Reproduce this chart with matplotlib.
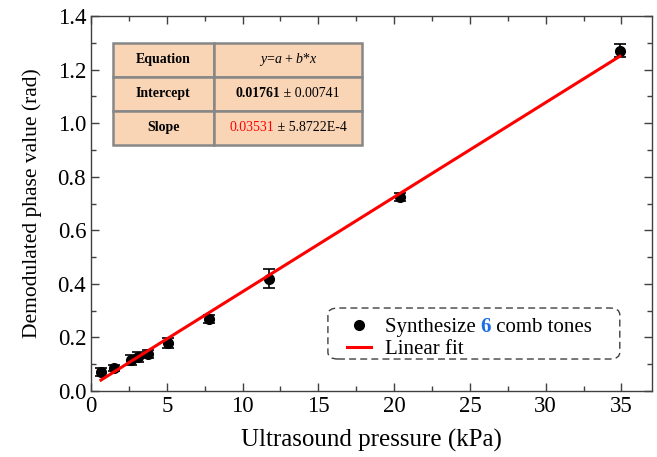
import numpy as np
import matplotlib.pyplot as plt
from matplotlib.lines import Line2D
from matplotlib.patches import FancyBboxPatch
from matplotlib.legend_handler import HandlerLine2D
from matplotlib.offsetbox import TextArea, HPacker, AnnotationBbox

plt.rcParams['font.family'] = ['Liberation Serif', 'DejaVu Serif']
plt.rcParams['mathtext.fontset'] = 'custom'
plt.rcParams['mathtext.rm'] = 'Liberation Serif'
plt.rcParams['mathtext.it'] = 'Liberation Serif:italic'
plt.rcParams['mathtext.bf'] = 'Liberation Serif:bold'

# data
pressure = [0.66, 1.49, 2.66, 3.13, 3.79, 5.1, 7.8, 11.77, 20.4, 34.9]
phase = [0.072, 0.085, 0.116, 0.127, 0.138, 0.179, 0.269, 0.42, 0.724, 1.27]
phase_err = [0.015, 0.012, 0.02, 0.02, 0.015, 0.02, 0.015, 0.036, 0.015, 0.024]

intercept = 0.01761
intercept_err = 0.00741
slope = 0.03531
slope_err = '5.8722E-4'

fig = plt.figure(figsize=(6.57, 4.57), dpi=100)
ax = fig.add_axes([0.1385, 0.1444, 0.8535, 0.8206])

ax.errorbar(pressure, phase, yerr=phase_err, fmt='o', color='black', ms=7,
            capsize=4.5, elinewidth=1.2, capthick=1.2, zorder=3)
xf = np.array([min(pressure), max(pressure)])
ax.plot(xf, intercept + slope * xf, color='red', lw=2.2, zorder=4)

ax.set_xlim(0, 37)
ax.set_ylim(0, 1.4)
ax.set_xticks(np.arange(0, 36, 5))
ax.set_xticks(np.arange(2.5, 36, 5), minor=True)
ax.set_yticks(np.arange(0, 1.41, 0.2))
ax.set_yticks(np.arange(0.1, 1.4, 0.2), minor=True)
ax.yaxis.set_major_formatter(plt.FormatStrFormatter('%.1f'))
ax.tick_params(which='both', direction='in', top=True, right=True,
               labeltop=False, labelright=False, color='#404040')
ax.tick_params(which='major', length=6, width=1, labelsize=16.5)
ax.tick_params(which='minor', length=3.5, width=1)
for s in ax.spines.values():
    s.set_color('#404040')
    s.set_linewidth(1)
ax.set_xlabel('Ultrasound pressure (kPa)', fontsize=18, labelpad=9)
ax.set_ylabel('Demodulated phase value (rad)', fontsize=15.5, labelpad=11)

# fit result table
tb = [0.039, 0.656, 0.444, 0.273]
cw = [0.406, 0.594]
cells = [['Equation', ''], ['Intercept', ''], ['Slope', '']]
tab = ax.table(cellText=cells, cellLoc='center', bbox=tb, colWidths=cw)
tab.auto_set_font_size(False)
for (r, c), cell in tab.get_celld().items():
    cell.set_facecolor('#f9d5b6')
    cell.set_edgecolor('#878787')
    cell.set_linewidth(1.8)
    cell.get_text().set_fontsize(10)
    if c == 0:
        cell.get_text().set_fontweight('bold')

vs = 10
cx = tb[0] + tb[2] * (cw[0] + cw[1] / 2)
row_y = [tb[1] + tb[3] * (5 / 6), tb[1] + tb[3] * 0.5, tb[1] + tb[3] * (1 / 6)]
ax.text(cx, row_y[0], '$y$=$a$ + $b$*$x$', transform=ax.transAxes,
        ha='center', va='center', fontsize=vs)
pieces = [
    [TextArea('%.5f' % intercept, textprops=dict(fontsize=vs, fontweight='bold')),
     TextArea(' \u00b1 %.5f' % intercept_err, textprops=dict(fontsize=vs))],
    [TextArea('%.5f' % slope, textprops=dict(fontsize=vs, color='red')),
     TextArea(' \u00b1 ' + slope_err, textprops=dict(fontsize=vs))],
]
for yy, p in zip(row_y[1:], pieces):
    pack = HPacker(children=p, align='baseline', pad=0, sep=0)
    ab = AnnotationBbox(pack, (cx, yy), xycoords='axes fraction',
                        frameon=False, box_alignment=(0.5, 0.5), pad=0)
    ax.add_artist(ab)


# legend: marker sits near the right end of its handle
class EndMarker(HandlerLine2D):
    def get_xdata(self, legend, xdescent, ydescent, width, height, fontsize):
        xd, xm = super().get_xdata(legend, xdescent, ydescent, width, height,
                                   fontsize)
        return xd, [-xdescent + 0.92 * width]


h_pts = Line2D([], [], marker='o', ls='none', color='black', ms=7)
h_fit = Line2D([], [], color='red', lw=2.2)
leg = ax.legend([h_pts, h_fit], ['Synthesize 6 comb tones', 'Linear fit'],
                fontsize=15, loc='lower left', bbox_to_anchor=(0.456, 0.085),
                borderaxespad=0, borderpad=0, frameon=False,
                handlelength=1.15, handletextpad=0.67, labelspacing=0.1,
                handler_map={h_pts: EndMarker()})
frame = FancyBboxPatch((0.4225, 0.0853), 0.5205, 0.136,
                       boxstyle='round,pad=0,rounding_size=0.018',
                       transform=ax.transAxes, facecolor='white',
                       edgecolor='#404040', lw=1, ls=(0, (5, 3)), zorder=4.5)
ax.add_patch(frame)
t0 = leg.get_texts()[0]
t0.set_alpha(0)
a1 = ax.annotate('Synthesize ', xy=(0, 0), xycoords=t0, va='bottom', ha='left',
                 fontsize=15, zorder=10)
a2 = ax.annotate('6', xy=(1, 0), xycoords=a1, va='bottom', ha='left',
                 fontsize=15, fontweight='bold', color='#1a6ee6', zorder=10)
ax.annotate(' comb tones', xy=(1, 0), xycoords=a2, va='bottom', ha='left',
            fontsize=15, zorder=10)

fig.savefig('out.png', dpi=100)
